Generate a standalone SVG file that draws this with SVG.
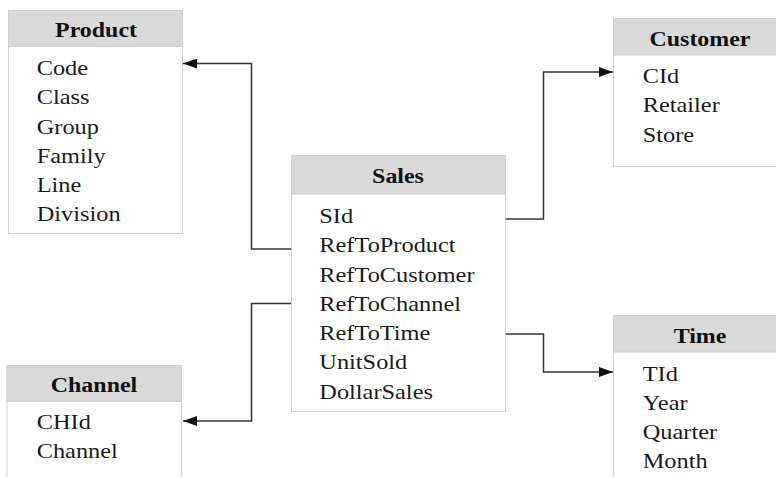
<svg xmlns="http://www.w3.org/2000/svg" width="776" height="477" viewBox="0 0 776 477">
  <style>
    .box { fill: #ffffff; stroke: #cfcfcf; stroke-width: 1; }
    .hdr { fill: #d9d9d9; stroke: #cfcfcf; stroke-width: 1; }
    .title { font-family: "Liberation Serif", "Times New Roman", serif; font-size: 21px; font-weight: bold; fill: #111; text-anchor: middle; }
    .item { font-family: "Liberation Serif", "Times New Roman", serif; font-size: 21px; fill: #1a1a1a; }
    .conn { fill: none; stroke: #333333; stroke-width: 1.5; }
  </style>
  <defs>
    <marker id="arrow" viewBox="0 0 14 10" refX="14" refY="5" markerWidth="14" markerHeight="10" markerUnits="userSpaceOnUse" orient="auto">
      <path d="M0,0 L14,5 L0,10 Z" fill="#111111"/>
    </marker>
  </defs>

  <rect width="776" height="477" fill="#ffffff"/>

  <g id="connectors">
    <path class="conn" d="M291,249 H251.5 V63.5 H183" marker-end="url(#arrow)"/>
    <path class="conn" d="M291,303.5 H251.5 V421 H183" marker-end="url(#arrow)"/>
    <path class="conn" d="M505,219 H543.5 V72 H613" marker-end="url(#arrow)"/>
    <path class="conn" d="M505,334 H543.5 V372 H613" marker-end="url(#arrow)"/>
  </g>

  <g id="product">
    <rect class="box" x="8.5" y="10.5" width="174" height="223"/>
    <rect class="hdr" x="8.5" y="10.5" width="174" height="36"/>
    <g transform="translate(96 0) scale(1.14 1)"><text class="title" x="0" y="37">Product</text></g>
    <g transform="translate(36.7 0) scale(1.16 1)">
      <text class="item" x="0" y="75">Code</text>
      <text class="item" x="0" y="104.3">Class</text>
      <text class="item" x="0" y="133.6">Group</text>
      <text class="item" x="0" y="162.9">Family</text>
      <text class="item" x="0" y="192.2">Line</text>
      <text class="item" x="0" y="221.5">Division</text>
    </g>
  </g>

  <g id="sales">
    <rect class="box" x="291.5" y="155.5" width="214" height="256"/>
    <rect class="hdr" x="291.5" y="155.5" width="214" height="38.5"/>
    <g transform="translate(398 0) scale(1.14 1)"><text class="title" x="0" y="183">Sales</text></g>
    <g transform="translate(319.3 0) scale(1.16 1)">
      <text class="item" x="0" y="223">SId</text>
      <text class="item" x="0" y="252.3">RefToProduct</text>
      <text class="item" x="0" y="281.6">RefToCustomer</text>
      <text class="item" x="0" y="310.9">RefToChannel</text>
      <text class="item" x="0" y="340.2">RefToTime</text>
      <text class="item" x="0" y="369.5">UnitSold</text>
      <text class="item" x="0" y="398.8">DollarSales</text>
    </g>
  </g>

  <g id="customer">
    <rect class="box" x="613.5" y="18.5" width="174" height="148"/>
    <rect class="hdr" x="613.5" y="18.5" width="174" height="36.5"/>
    <g transform="translate(700 0) scale(1.14 1)"><text class="title" x="0" y="46">Customer</text></g>
    <g transform="translate(642.7 0) scale(1.16 1)">
      <text class="item" x="0" y="83.3">CId</text>
      <text class="item" x="0" y="112.5">Retailer</text>
      <text class="item" x="0" y="141.7">Store</text>
    </g>
  </g>

  <g id="time">
    <rect class="box" x="613.5" y="315.5" width="174" height="170"/>
    <rect class="hdr" x="613.5" y="315.5" width="174" height="36.5"/>
    <g transform="translate(700 0) scale(1.14 1)"><text class="title" x="0" y="343.3">Time</text></g>
    <g transform="translate(642.7 0) scale(1.16 1)">
      <text class="item" x="0" y="380.7">TId</text>
      <text class="item" x="0" y="409.9">Year</text>
      <text class="item" x="0" y="439.1">Quarter</text>
      <text class="item" x="0" y="468.3">Month</text>
    </g>
  </g>

  <g id="channel">
    <rect class="box" x="7" y="365.5" width="174.5" height="120"/>
    <rect class="hdr" x="7" y="365.5" width="174.5" height="36"/>
    <g transform="translate(94 0) scale(1.14 1)"><text class="title" x="0" y="391.7">Channel</text></g>
    <g transform="translate(36.7 0) scale(1.16 1)">
      <text class="item" x="0" y="428.8">CHId</text>
      <text class="item" x="0" y="458">Channel</text>
    </g>
  </g>
</svg>
